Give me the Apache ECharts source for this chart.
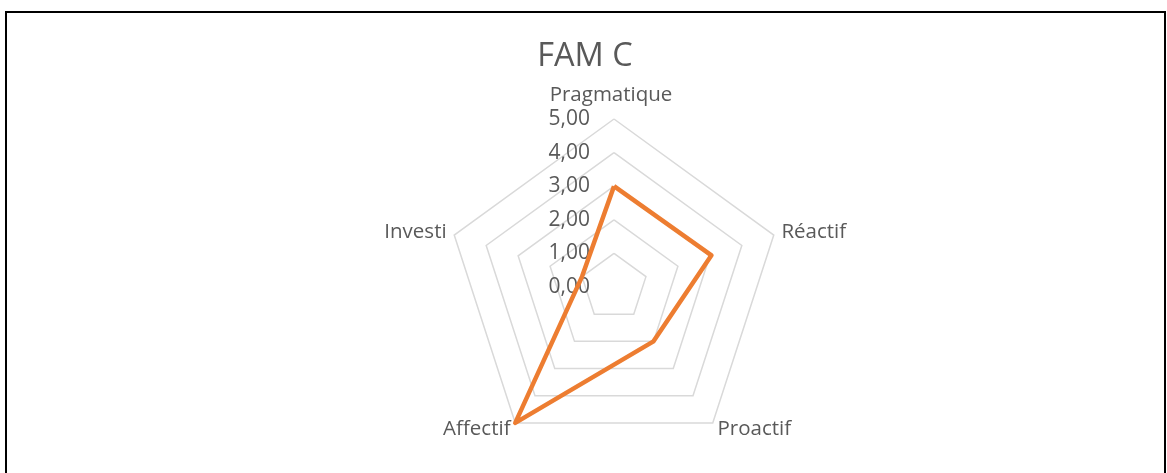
<!DOCTYPE html>
<html>
<head>
<meta charset="utf-8">
<script src="https://cdn.jsdelivr.net/npm/echarts@6/dist/echarts.min.js"></script>
<style>
html,body{margin:0;padding:0;background:#fff;}
#chart{position:absolute;left:0;top:0;width:1167px;height:473px;}
#frame{position:absolute;left:5px;top:11px;width:1157px;height:480px;border:2px solid #000;border-bottom:none;pointer-events:none;}
</style>
</head>
<body>
<div id="chart"></div>
<div id="frame"></div>
<script>
const title = 'FAM C';
// clockwise order from top, as in the reference
const categories = ['Pragmatique', 'Réactif', 'Proactif', 'Affectif', 'Investi'];
const values = [3.0, 3.05, 2.0, 5.0, 1.0];
const tickLabels = ['0,00', '1,00', '2,00', '3,00', '4,00', '5,00'];
const axisMax = 5;

// ECharts radar runs counter-clockwise: keep first, reverse the rest
const order = [0].concat(categories.slice(1).map((_, i) => categories.length - 1 - i));
const indicators = order.map((idx, k) => {
  const ind = { name: categories[idx], max: axisMax, min: 0 };
  if (k === 0) ind.axisLabel = { show: true };
  return ind;
});
const seriesValues = order.map(idx => values[idx]);

const font = 'Open Sans';
const chart = echarts.init(document.getElementById('chart'), null, { renderer: 'canvas' });
chart.setOption({
  animation: false,
  title: {
    text: title, left: 580, top: 35, textAlign: 'center',
    textStyle: { fontFamily: font, fontSize: 32.5, fontWeight: 'normal', color: '#595959' }
  },
  radar: {
    center: [614, 287],
    radius: 168,
    startAngle: 90,
    shape: 'polygon',
    splitNumber: 5,
    nameGap: 8,
    axisName: {
      color: '#595959', fontFamily: font, fontSize: 20.5,
      formatter: name => name === categories[0] ? '{top|' + name + '}' : name,
      rich: { top: { color: '#595959', fontFamily: font, fontSize: 20.5, padding: [0, 6, 5, 0] } }
    },
    axisLine: { show: false },
    axisTick: { show: false },
    splitArea: { show: false },
    splitLine: { lineStyle: { color: '#d9d9d9', width: 1.5 } },
    axisLabel: {
      show: false, color: '#595959', fontFamily: font, fontSize: 21, margin: 24,
      showMinLabel: true, showMaxLabel: true,
      formatter: v => tickLabels[Math.round(v)]
    },
    indicator: indicators
  },
  series: [{
    type: 'radar',
    symbol: 'none',
    lineStyle: { color: '#ED7D31', width: 4.5 },
    data: [{ value: seriesValues, name: title }]
  }]
});
</script>
</body>
</html>
